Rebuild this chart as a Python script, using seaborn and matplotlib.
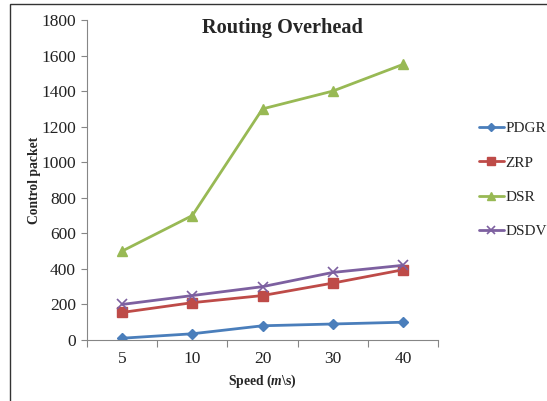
import matplotlib
matplotlib.use("Agg")
import matplotlib.pyplot as plt
import seaborn as sns
import pandas as pd
from matplotlib.patches import Rectangle

speeds = ["5", "10", "20", "30", "40"]
pdgr = [10, 35, 80, 90, 100]
zrp = [155, 210, 250, 320, 395]
dsr = [500, 700, 1300, 1400, 1550]
dsdv = [200, 250, 300, 380, 420]
series_names = ["PDGR", "ZRP", "DSR", "DSDV"]
yticks = [0, 200, 400, 600, 800, 1000, 1200, 1400, 1600, 1800]

sns.set_theme(style="white")
plt.rcParams['font.family'] = ['Liberation Serif', 'DejaVu Serif']
plt.rcParams['mathtext.fontset'] = 'custom'
plt.rcParams['mathtext.rm'] = 'Liberation Serif:bold'
plt.rcParams['mathtext.it'] = 'Liberation Serif:italic:bold'

rows = []
for name, vals in zip(series_names, [pdgr, zrp, dsr, dsdv]):
    for s, v in zip(speeds, vals):
        rows.append({"Speed": s, "Value": v, "Series": name})
df = pd.DataFrame(rows)

colors = {"PDGR": "#4A7EBB", "ZRP": "#BE4B48", "DSR": "#98B954", "DSDV": "#7D60A0"}
markers = {"PDGR": "D", "ZRP": "s", "DSR": "^", "DSDV": "x"}
msizes = {"PDGR": 5, "ZRP": 7, "DSR": 7, "DSDV": 7}

fig = plt.figure(figsize=(5.47, 4.01), dpi=100)
ax = fig.add_axes([87/547, 1-340/401, (438-87)/547, (340-20)/401])

for name in series_names:
    sub = df[df.Series == name]
    sns.lineplot(data=sub, x="Speed", y="Value", ax=ax, color=colors[name],
                 marker=markers[name], markersize=msizes[name], linewidth=2,
                 markeredgecolor=colors[name], markeredgewidth=1 if name != "DSDV" else 1.2,
                 label=name, sort=False)

ax.set_xlim(-0.5, 4.5)
ax.set_ylim(0, 1800)
ax.set_yticks(yticks)
ax.set_xticks(range(len(speeds)))
ax.set_xticklabels(speeds)
ax.set_xticks([i - 0.5 for i in range(len(speeds) + 1)], minor=True)
ax.tick_params(axis='x', which='major', length=0, labelsize=12.5, pad=8, colors='#222222')
ax.tick_params(axis='x', which='minor', length=5, width=0.8, color='#868686', direction='out', bottom=True)
ax.tick_params(axis='y', which='major', length=4, width=0.8, color='#868686', direction='out', left=True, labelsize=12.5, pad=4, labelcolor='#222222')

for side in ["top", "right"]:
    ax.spines[side].set_visible(False)
for side in ["left", "bottom"]:
    ax.spines[side].set_color("#868686")
    ax.spines[side].set_linewidth(0.8)

ax.set_xlabel(r"Speed ($\mathit{m}$\s)", fontsize=9.8, fontweight='bold', labelpad=4)
ax.set_ylabel("Control packet", fontsize=9.8, fontweight='bold', labelpad=0)
ax.grid(False)

fig.text(282/547, 1-28/401, "Routing Overhead", ha='center', va='center',
         fontsize=14.6, fontweight='bold')

ax.legend(loc='center left', bbox_to_anchor=(473/547, 1-180/401), bbox_transform=fig.transFigure,
          frameon=False, fontsize=11, handlelength=1.6, handletextpad=0.1, labelspacing=1.35,
          borderaxespad=0, markerscale=0.85)

fig.patches.append(Rectangle((10/547, -0.05), 1.2, 1-4/401+0.05, transform=fig.transFigure,
                             fill=False, edgecolor='#333333', linewidth=1.0))

fig.savefig("out.png", dpi=100)
